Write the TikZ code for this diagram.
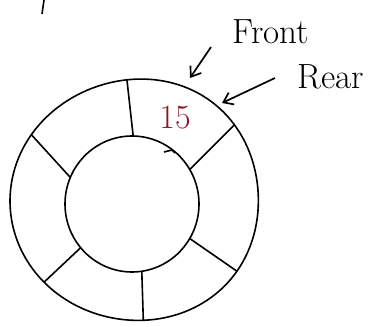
\documentclass[tikz,border=0pt]{standalone}
\usepackage{tikz}
\usetikzlibrary{arrows.meta}
\definecolor{maroon}{RGB}{140,22,40}

\begin{document}
\begin{tikzpicture}[x=1pt,y=1pt,line width=1.6pt,line join=round,
  declare function={bulge(\t)=1+0.07*((1+cos(\t-55))/2)^6+0.05*((1+cos(\t+45))/2)^6;},
  pointer/.style={-{Straight Barb[length=9pt,width=13pt]},line width=1.7pt},
  tag/.style={font=\fontsize{35}{38}\selectfont}]
\useasboundingbox (0,0) rectangle (378,327);
% outer ring
\draw plot[domain=0:360,samples=100,smooth,variable=\t]
  ({132+122*bulge(\t)*cos(\t)},{126+117*bulge(\t)*sin(\t)}) -- cycle;
% inner ring
\draw (132,123) ellipse [x radius=67, y radius=68];
% slots
\foreach \ao/\ai in {92.3/89, 37.8/30.5, -34.9/-30.5, -84.8/-81.6, 223.9/220, 145.5/157}
  \draw ({132+122*bulge(\ao)*cos(\ao)},{126+117*bulge(\ao)*sin(\ao)})
    -- ({132+67*cos(\ai)},{123+68*sin(\ai)});
\draw (164,175) -- (172,177) -- (175,174);
\node[text=maroon,font=\fontsize{34}{36}\selectfont] (val) at (175,209) {15};
\node[tag] (front) at (271,295) {Front};
\node[tag] (rear) at (331,250) {Rear};
\coordinate (fs) at (211,280);
\coordinate (fronttip) at (190,249);
\coordinate (rs) at (275,249);
\coordinate (reartip) at (222,224);
\draw[pointer] (fs) -- (fronttip);
\draw[pointer] (rs) -- (reartip);
\draw (44,327) -- (42,313);
\end{tikzpicture}
\end{document}
